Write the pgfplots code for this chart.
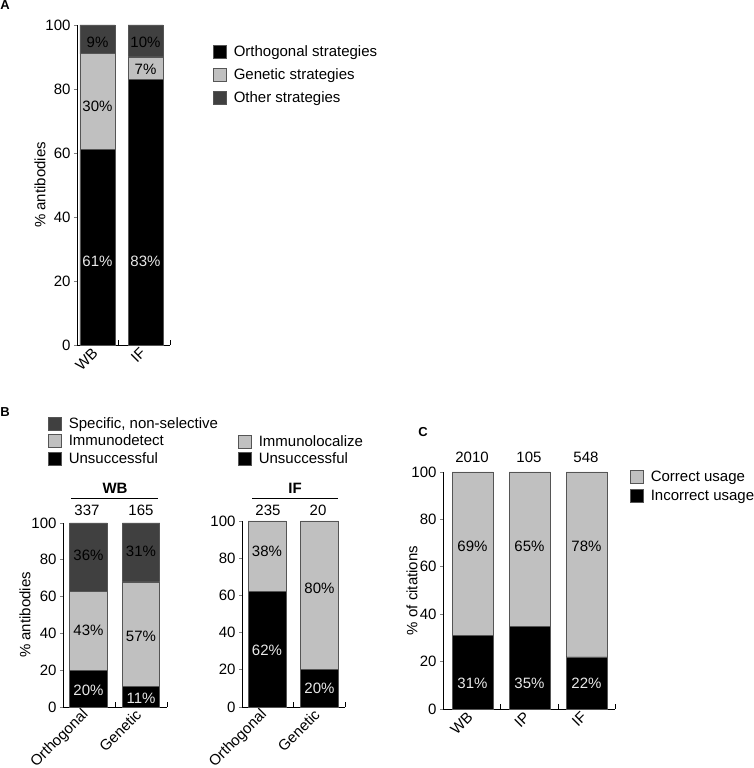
\documentclass[border=0pt]{standalone}
\usepackage{fontspec}
\setmainfont{Liberation Sans}
\usepackage{pgfplots}
\pgfplotsset{compat=1.18}
\definecolor{lg}{HTML}{C0C0C0}
\definecolor{dg}{HTML}{404040}
\definecolor{bd}{HTML}{555555}
\definecolor{wt}{HTML}{E8E8E8}
\newcommand{\fs}{\fontsize{15}{17}\selectfont}
\tikzset{
 pct/.style={font=\fs},
 wpct/.style={font=\fs, text=wt},
}
\pgfplotsset{
 base/.style={
  scale only axis, axis lines=left, axis line style={-, line width=0.8pt},
  ybar stacked, enlargelimits=false, ymin=0, ymax=100,
  ytick={0,20,...,100}, tick align=outside, major tick length=3pt,
  xtick style={draw=none}, ytick style={line width=0.8pt},
  /pgf/number format/assume math mode=true,
  font=\fs, tick label style={font=\fs},
  xticklabel style={rotate=45, anchor=east},
  ylabel style={font=\fs},
  clip=false,
  legend image code/.code={\draw[##1,draw=bd,line width=0.6pt] (0pt,-6.5pt) rectangle (13pt,6.5pt);},
  legend cell align=left,
  legend style={draw=none, fill=none, anchor=north west, inner sep=0pt, font=\fs, row sep=4pt,
    /tikz/every odd column/.append style={column sep=5pt}},
  every axis plot/.append style={draw=bd, line width=0.6pt},
 },
}
\begin{document}
\begin{tikzpicture}
\useasboundingbox (0,0) rectangle (754pt,768pt);
% Panel letters
\node[anchor=base, font=\fontsize{13}{15}\selectfont\bfseries] at (5pt,758pt) {A};
\node[anchor=base, font=\fontsize{13}{15}\selectfont\bfseries] at (5pt,351pt) {B};
\node[anchor=base, font=\fontsize{13}{15}\selectfont\bfseries] at (423pt,331pt) {C};

% ---------------- Panel A
\begin{axis}[base, at={(77pt,423pt)}, anchor=south west, width=93pt, height=320pt,
  xmin=0, xmax=93, bar width=35, xtick={20.5,68.5}, xticklabels={WB,IF},
  ylabel={\% antibodies}, ylabel style={at={(axis description cs:-0.398,0.5)}, anchor=center},
  legend style={at={(axis description cs:1.462,0.942)}, row sep=6.5pt}]
\addplot[fill=black] coordinates {(20.5,61) (68.5,83)};
\addplot[fill=lg] coordinates {(20.5,30) (68.5,7)};
\addplot[fill=dg] coordinates {(20.5,9) (68.5,10)};
\legend{Orthogonal strategies, Genetic strategies, Other strategies}
\coordinate (a1) at (axis cs:20.5,26);
\coordinate (a2) at (axis cs:20.5,74.7);
\coordinate (a3) at (axis cs:20.5,94.7);
\coordinate (a4) at (axis cs:68.5,26);
\coordinate (a5) at (axis cs:68.5,86);
\coordinate (a6) at (axis cs:68.5,94.7);
\draw[line width=0.8pt] (axis cs:41,0) -- ++(0,5pt);
\draw[line width=0.8pt] (axis cs:93,0) -- ++(0,5pt);
\end{axis}
\node[wpct] at (a1) {61\%};
\node[pct] at (a2) {30\%};
\node[pct] at (a3) {9\%};
\node[wpct] at (a4) {83\%};
\node[pct] at (a5) {7\%};
\node[pct] at (a6) {10\%};

% ---------------- Panel B, WB
\begin{axis}[base, at={(63pt,61pt)}, anchor=south west, width=104pt, height=184pt,
  xmin=0, xmax=104, bar width=37.5, xtick={25.5,78}, xticklabels={Orthogonal,Genetic},
  ylabel={\% antibodies}, ylabel style={at={(axis description cs:-0.365,0.5)}, anchor=center},
  reverse legend, legend style={at={(axis description cs:-0.144,1.587)}, row sep=1.5pt}]
\addplot[fill=black] coordinates {(25.5,20) (78,11)};
\addplot[fill=lg] coordinates {(25.5,43) (78,57)};
\addplot[fill=dg] coordinates {(25.5,37) (78,32)};
\legend{Unsuccessful, Immunodetect, {Specific, non-selective}}
\coordinate (b1) at (axis cs:25.5,9.2);
\coordinate (b2) at (axis cs:25.5,41.5);
\coordinate (b3) at (axis cs:25.5,82.6);
\coordinate (b4) at (axis cs:78,4.9);
\coordinate (b5) at (axis cs:78,38.2);
\coordinate (b6) at (axis cs:78,84.8);
\node[font=\fs\bfseries] at (axis cs:52,119) {WB};
\draw[line width=0.8pt] (axis cs:8,113.6) -- (axis cs:95,113.6);
\node[pct] at (axis cs:24,107) {337};
\node[pct] at (axis cs:78,107) {165};
\draw[line width=0.8pt] (axis cs:52,0) -- ++(0,5pt);
\draw[line width=0.8pt] (axis cs:104,0) -- ++(0,5pt);
\end{axis}
\node[wpct] at (b1) {20\%};
\node[pct] at (b2) {43\%};
\node[pct] at (b3) {36\%};
\node[wpct] at (b4) {11\%};
\node[pct] at (b5) {57\%};
\node[pct] at (b6) {31\%};

% ---------------- Panel B, IF
\begin{axis}[base, at={(242pt,61pt)}, anchor=south west, width=103pt, height=186pt,
  xmin=0, xmax=103, bar width=38, xtick={25,77.5}, xticklabels={Orthogonal,Genetic},
  reverse legend, legend style={at={(axis description cs:-0.039,1.473)}, row sep=1.5pt}]
\addplot[fill=black] coordinates {(25,62) (77.5,20)};
\addplot[fill=lg] coordinates {(25,38) (77.5,80)};
\legend{Unsuccessful, Immunolocalize}
\coordinate (c1) at (axis cs:25,30.6);
\coordinate (c2) at (axis cs:25,83.9);
\coordinate (c3) at (axis cs:77.5,10.2);
\coordinate (c4) at (axis cs:77.5,64);
\node[font=\fs\bfseries] at (axis cs:53,117.7) {IF};
\draw[line width=0.8pt] (axis cs:10,112.4) -- (axis cs:96,112.4);
\node[pct] at (axis cs:26,105.9) {235};
\node[pct] at (axis cs:76,105.9) {20};
\draw[line width=0.8pt] (axis cs:51,0) -- ++(0,5pt);
\draw[line width=0.8pt] (axis cs:103,0) -- ++(0,5pt);
\end{axis}
\node[wpct] at (c1) {62\%};
\node[pct] at (c2) {38\%};
\node[wpct] at (c3) {20\%};
\node[pct] at (c4) {80\%};

% ---------------- Panel C
\begin{axis}[base, at={(443pt,59pt)}, anchor=south west, width=172pt, height=237pt,
  xmin=0, xmax=172, bar width=41, xtick={29.5,86.5,143.5}, xticklabels={WB,IP,IF},
  ylabel={\% of citations}, ylabel style={at={(axis description cs:-0.180,0.5)}, anchor=center},
  reverse legend, legend style={at={(axis description cs:1.087,1.013)}, row sep=3pt}]
\addplot[fill=black] coordinates {(29.5,31) (86.5,35) (143.5,22)};
\addplot[fill=lg] coordinates {(29.5,69) (86.5,65) (143.5,78)};
\legend{Incorrect usage, Correct usage}
\coordinate (d1) at (axis cs:29.5,11);
\coordinate (d2) at (axis cs:86.5,11);
\coordinate (d3) at (axis cs:143.5,11);
\coordinate (d4) at (axis cs:29.5,68.8);
\coordinate (d5) at (axis cs:86.5,68.8);
\coordinate (d6) at (axis cs:143.5,68.8);
\node[pct] at (axis cs:29,106.3) {2010};
\node[pct] at (axis cs:86,106.3) {105};
\node[pct] at (axis cs:143,106.3) {548};
\draw[line width=0.8pt] (axis cs:57,0) -- ++(0,5pt);
\draw[line width=0.8pt] (axis cs:115,0) -- ++(0,5pt);
\draw[line width=0.8pt] (axis cs:172,0) -- ++(0,5pt);
\end{axis}
\node[wpct] at (d1) {31\%};
\node[wpct] at (d2) {35\%};
\node[wpct] at (d3) {22\%};
\node[pct] at (d4) {69\%};
\node[pct] at (d5) {65\%};
\node[pct] at (d6) {78\%};
\end{tikzpicture}
\end{document}
